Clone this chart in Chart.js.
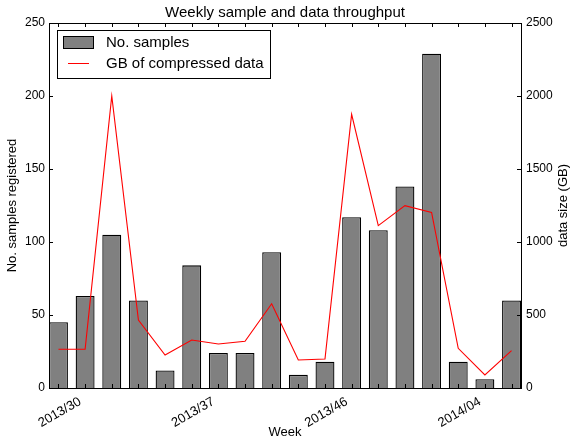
<!DOCTYPE html>
<html>
<head>
<meta charset="utf-8">
<script src="https://cdn.jsdelivr.net/npm/chart.js@4"></script>
<style>
  html, body { margin: 0; padding: 0; background: #fff; }
  #wrap { width: 570px; height: 440px; }
</style>
</head>
<body>
<div id="wrap"><canvas id="chart-canvas" width="570" height="440"></canvas></div>
<script>
// weekly values
const samples = [45, 63, 105, 60, 12, 84, 24, 24, 93, 9, 18, 117, 108, 138, 229, 18, 6, 60]
const gigabytes = [265, 265, 2000, 465, 226, 329, 301, 320, 577, 192, 199, 1875, 1112, 1249, 1203, 272, 89, 256]
const tickIndex = [1, 6, 11, 16]
const tickLabels = ['2013/30', '2013/37', '2013/46', '2014/04']

const FONT = '"Liberation Sans", Arial, sans-serif'

const toPoints = arr => arr.map((v, i) => ({ x: i, y: v }))

// matplotlib-ish frame, inward ticks, legend inside the axes
const decorations = {
  id: 'decorations',
  afterDatasetsDraw(chart) {
    const ctx = chart.ctx
    const area = chart.chartArea
    const { x, y, y1 } = chart.scales
    ctx.save()
    ctx.strokeStyle = '#000'
    ctx.lineWidth = 1
    ctx.beginPath()
    x.ticks.forEach(t => {
      const px = Math.round(x.getPixelForValue(t.value)) + 0.5
      ctx.moveTo(px, area.bottom); ctx.lineTo(px, area.bottom - 4)
      ctx.moveTo(px, area.top); ctx.lineTo(px, area.top + 4)
    })
    y.ticks.forEach(t => {
      const py = Math.round(y.getPixelForValue(t.value)) + 0.5
      ctx.moveTo(area.left, py); ctx.lineTo(area.left + 4, py)
    })
    y1.ticks.forEach(t => {
      const py = Math.round(y1.getPixelForValue(t.value)) + 0.5
      ctx.moveTo(area.right, py); ctx.lineTo(area.right - 4, py)
    })
    ctx.stroke()
    ctx.strokeRect(Math.round(area.left) + 0.5, Math.round(area.top) + 0.5,
      Math.round(area.right - area.left), Math.round(area.bottom - area.top))

    // legend
    const bx = area.left + 8, by = area.top + 7
    ctx.fillStyle = '#fff'
    ctx.fillRect(bx, by, 213, 48)
    ctx.strokeRect(bx + 0.5, by + 0.5, 213, 48)
    const ds = chart.data.datasets
    ctx.fillStyle = ds[0].backgroundColor
    ctx.fillRect(bx + 6, by + 6, 30, 12)
    ctx.strokeStyle = '#000'
    ctx.strokeRect(bx + 6.5, by + 6.5, 30, 12)
    ctx.strokeStyle = ds[1].borderColor
    ctx.beginPath()
    ctx.moveTo(bx + 11, by + 33.5); ctx.lineTo(bx + 32, by + 33.5)
    ctx.stroke()
    ctx.fillStyle = '#000'
    ctx.font = '15px ' + FONT
    ctx.textBaseline = 'middle'
    ctx.fillText(ds[0].label, bx + 49, by + 13)
    ctx.fillText(ds[1].label, bx + 49, by + 34)

    // right axis title, reading bottom to top
    ctx.translate(563, (area.top + area.bottom) / 2)
    ctx.rotate(-Math.PI / 2)
    ctx.textAlign = 'center'
    ctx.font = '13px ' + FONT
    ctx.fillText('data size (GB)', 0, 0)
    ctx.restore()
  }
}

const chart = new Chart(document.querySelector('#chart-canvas'), {
  type: 'bar',
  data: {
    datasets: [
      {
        type: 'bar',
        label: 'No. samples',
        data: toPoints(samples),
        yAxisID: 'y',
        backgroundColor: '#808080',
        borderColor: '#000',
        borderWidth: 1.3,
        categoryPercentage: 1,
        barPercentage: 0.71,
        order: 1
      },
      {
        type: 'line',
        label: 'GB of compressed data',
        data: toPoints(gigabytes),
        yAxisID: 'y1',
        borderColor: '#ff0000',
        borderWidth: 1.1,
        pointRadius: 0,
        tension: 0,
        fill: false,
        order: 0
      }
    ]
  },
  options: {
    responsive: false,
    animation: false,
    layout: { padding: 0 },
    plugins: {
      legend: { display: false },
      tooltip: { enabled: false },
      title: {
        display: true,
        text: 'Weekly sample and data throughput',
        color: '#000',
        font: { family: FONT, size: 15, weight: 'normal' },
        padding: { top: 4, bottom: 1 }
      }
    },
    scales: {
      x: {
        type: 'linear',
        min: -0.355,
        max: 17.355,
        offset: false,
        grid: { display: false, drawTicks: false },
        border: { display: false },
        ticks: {
          stepSize: 1,
          includeBounds: false,
          autoSkip: false,
          minRotation: 30,
          maxRotation: 30,
          padding: 6,
          labelOffset: -5,
          color: '#000',
          font: { family: FONT, size: 13 },
          callback: v => {
            const k = tickIndex.indexOf(v)
            return k >= 0 ? tickLabels[k] : ''
          }
        },
        title: {
          display: true,
          text: 'Week',
          color: '#000',
          font: { family: FONT, size: 13 },
          padding: 0
        },
        afterFit: s => { s.height = 52 }
      },
      y: {
        position: 'left',
        min: 0,
        max: 250,
        grid: { display: false, drawTicks: false },
        border: { display: false },
        ticks: {
          stepSize: 50,
          padding: 4,
          color: '#000',
          font: { family: FONT, size: 12 }
        },
        title: {
          display: true,
          text: 'No. samples registered',
          color: '#000',
          font: { family: FONT, size: 13 },
          padding: { top: 5, bottom: 0 }
        },
        afterFit: s => { s.width = 49 }
      },
      y1: {
        position: 'right',
        min: 0,
        max: 2500,
        grid: { display: false, drawTicks: false },
        border: { display: false },
        ticks: {
          stepSize: 500,
          padding: 5,
          color: '#000',
          font: { family: FONT, size: 12 },
          callback: v => String(v)
        },
        afterFit: s => { s.width = 49 }
      }
    }
  },
  plugins: [decorations]
})
</script>
</body>
</html>
